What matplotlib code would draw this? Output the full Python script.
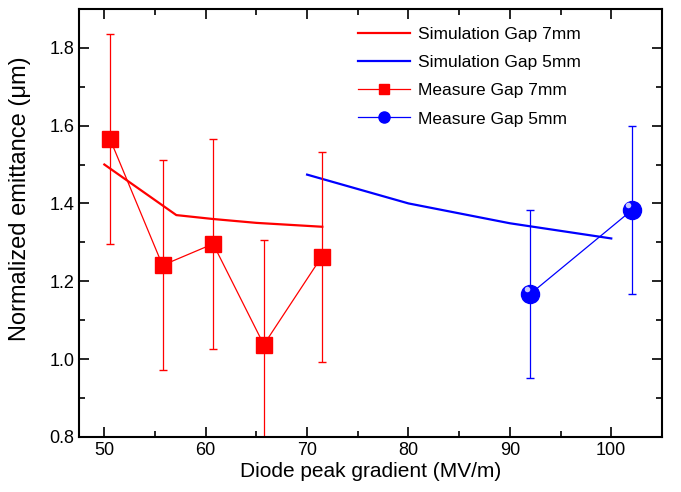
import numpy as np
import matplotlib
matplotlib.use("Agg")
import matplotlib.pyplot as plt
from matplotlib.ticker import MultipleLocator
from matplotlib.lines import Line2D

plt.rcParams['font.family'] = ['Liberation Sans', 'DejaVu Sans']

# simulation curves
sim7_x = [50.0, 57.1, 60.7, 65.0, 71.5]
sim7_y = [1.50, 1.37, 1.36, 1.35, 1.34]
sim5_x = [70, 80, 90, 100]
sim5_y = [1.474, 1.40, 1.349, 1.31]

# measurements
meas7_x = [50.55, 55.74, 60.73, 65.73, 71.44]
meas7_y = [1.566, 1.241, 1.296, 1.037, 1.263]
meas7_err = [0.27, 0.27, 0.27, 0.27, 0.27]
meas5_x = [92.0, 102.05]
meas5_y = [1.167, 1.383]
meas5_err = [0.215, 0.215]

red = '#ff0000'
blue = '#0000ff'

fig = plt.figure(figsize=(6.81, 4.92), dpi=100)
ax = fig.add_axes([0.116, 0.112, 0.856, 0.870])

ax.plot(sim7_x, sim7_y, color=red, lw=1.6)
ax.plot(sim5_x, sim5_y, color=blue, lw=1.6)
ax.errorbar(meas7_x, meas7_y, yerr=meas7_err, color=red, lw=0.9,
            marker='s', ms=11.5, capsize=2.8, elinewidth=0.9)
ax.errorbar(meas5_x, meas5_y, yerr=meas5_err, color=blue, lw=0.9,
            marker='o', ms=13, capsize=2.8, elinewidth=0.9)
# little highlight on the spheres
ax.plot(np.array(meas5_x) - 0.35, np.array(meas5_y) + 0.012, 'o',
        color='#c8c8ff', ms=4, mec='none', zorder=5)

ax.set_xlim(47.5, 105)
ax.set_ylim(0.8, 1.9)
ax.xaxis.set_major_locator(MultipleLocator(10))
ax.xaxis.set_minor_locator(MultipleLocator(5))
ax.yaxis.set_minor_locator(MultipleLocator(0.1))
ax.set_yticks([0.8, 1.0, 1.2, 1.4, 1.6, 1.8])
ax.tick_params(which='both', direction='in', top=True, right=True, width=1.2,
               labelsize=13)
ax.tick_params(which='major', length=7)
ax.tick_params(which='minor', length=4)
for s in ax.spines.values():
    s.set_linewidth(1.5)

ax.set_xlabel('Diode peak gradient (MV/m)', fontsize=15, labelpad=2)
ax.set_ylabel('Normalized emittance (\u03bcm)', fontsize=17)
ax.yaxis.set_label_coords(-0.083, 0.556)

handles = [
    Line2D([], [], color=red, lw=1.6),
    Line2D([], [], color=blue, lw=1.6),
    Line2D([], [], color=red, lw=0.9, marker='s', ms=7.5),
    Line2D([], [], color=blue, lw=0.9, marker='o', ms=8),
]
labels = ['Simulation Gap 7mm', 'Simulation Gap 5mm',
          'Measure Gap 7mm', 'Measure Gap 5mm']
ax.legend(handles, labels, loc='upper left', frameon=False, fontsize=12.5,
          handlelength=3, handletextpad=0.45, borderpad=0, borderaxespad=0,
          labelspacing=0.75, bbox_to_anchor=(0.479, 0.958))

fig.savefig('out.png', dpi=100)
